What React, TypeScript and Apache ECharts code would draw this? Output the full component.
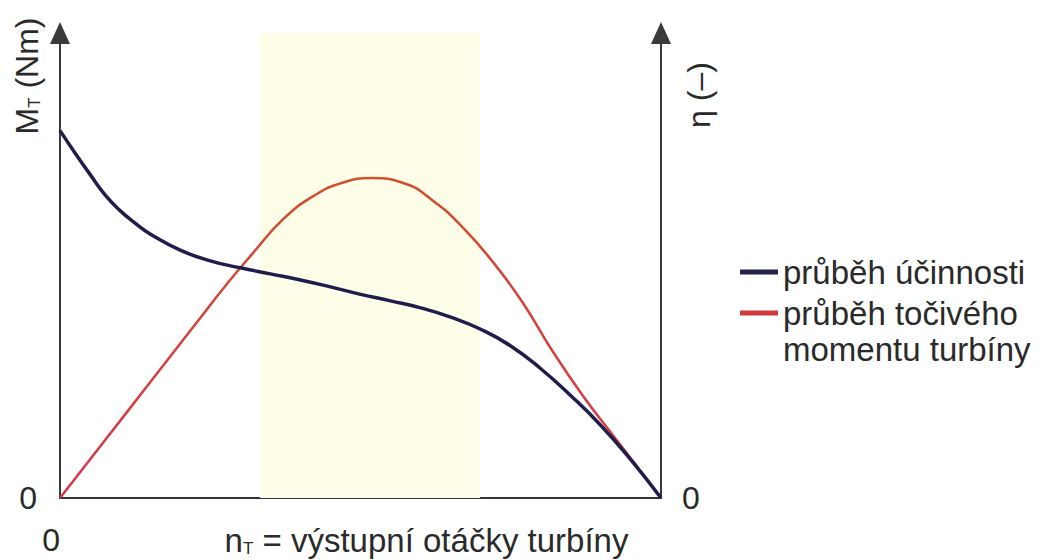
import React, { useEffect, useRef } from "react";
import * as echarts from "echarts";

// Turbine speed (relative, 0..100) and curve values (relative units, 0..100)
const efficiencyX = [0, 2.5, 5, 7.5, 10, 12.5, 15, 20, 25, 30, 35, 40, 45, 50, 55, 60, 65, 70, 75, 80, 85, 90, 95, 100];
const efficiencyY = [79, 74.2, 69.6, 65.2, 61.8, 59.1, 56.8, 53.3, 51.0, 49.5, 48.2, 46.9, 45.4, 43.8, 42.4, 40.9, 38.9, 36.3, 32.7, 27.8, 22.0, 15.6, 8.2, 0];

const torqueX = [0, 7, 15, 22, 28, 32, 37, 42, 47, 52, 57, 62, 67, 72, 77, 82, 87, 92, 96, 100];
const torqueY = [0, 11.6, 24.9, 36.5, 46.4, 52.5, 59.8, 64.8, 67.8, 68.8, 67.8, 64.0, 58.2, 50.8, 42.0, 31.5, 22.0, 13.5, 6.8, 0];

// Highlighted operating range on the speed axis
const bandRange = [33.3, 69.9];

const seriesNames = ["průběh účinnosti", "průběh točivého\nmomentu turbíny"];
const xAxisTitle = "výstupní otáčky turbíny";
const leftAxisTitle = "(Nm)";
const rightAxisTitle = "η (–)";

const FONT = "Liberation Sans";
const TEXT = "#2a2a2a";

export default function App() {
  const ref = useRef<HTMLDivElement>(null);

  useEffect(() => {
    if (!ref.current) return;
    const chart = echarts.init(ref.current, undefined, { renderer: "svg" });

    const zeroOnly = (v: number) => (v === 0 ? "0" : "");
    const redGrad = new echarts.graphic.LinearGradient(0, 0, 1, 0, [
      { offset: 0, color: "#d8344a" },
      { offset: 0.5, color: "#cf5326" },
      { offset: 1, color: "#d8344a" },
    ]);

    const yAxisCommon = {
      type: "value",
      min: 0,
      max: 100,
      interval: 100,
      splitLine: { show: false },
      axisTick: { show: false },
      axisLine: {
        show: true,
        symbol: ["none", "triangle"],
        symbolSize: [20, 22],
        lineStyle: { color: "#3a3a3a", width: 2 },
      },
      axisLabel: {
        formatter: zeroOnly,
        fontFamily: FONT,
        fontSize: 32,
        color: TEXT,
      },
    };

    chart.setOption({
      animation: false,
      backgroundColor: "#ffffff",
      grid: { left: 60, right: 381, top: 33, bottom: 62, containLabel: false, outerBoundsMode: "none" },
      legend: {
        orient: "vertical",
        left: 740,
        top: 254,
        padding: 0,
        itemWidth: 38,
        itemHeight: 5,
        itemGap: -31,
        icon: "rect",
        selectedMode: false,
        formatter: (name: string) => (name === seriesNames[1] ? " \n" + name : name),
        textStyle: { fontFamily: FONT, fontSize: 33, color: TEXT, lineHeight: 36 },
        data: [
          { name: seriesNames[0], itemStyle: { color: "#23224f" } },
          { name: seriesNames[1], itemStyle: { color: "#cf3a38" } },
        ],
      },
      xAxis: {
        type: "value",
        min: 0,
        max: 100,
        interval: 100,
        splitLine: { show: false },
        axisTick: { show: false },
        axisLine: { show: true, lineStyle: { color: "#333333", width: 2 } },
        axisLabel: {
          formatter: zeroOnly,
          align: "right",
          margin: 26,
          fontFamily: FONT,
          fontSize: 32,
          color: TEXT,
        },
        name: "n{sub|T} = " + xAxisTitle,
        nameLocation: "middle",
        nameGap: 26,
        nameMoveOverlap: false,
        nameTextStyle: {
          fontFamily: FONT,
          fontSize: 33,
          color: TEXT,
          padding: [0, 0, 0, 132],
          rich: {
            sub: { fontFamily: FONT, fontSize: 17, color: TEXT, verticalAlign: "bottom", padding: [14, 0, 0, 0] },
          },
        },
      },
      yAxis: [
        { ...yAxisCommon, position: "left", axisLabel: { ...yAxisCommon.axisLabel, margin: 23 } },
        { ...yAxisCommon, position: "right", axisLabel: { ...yAxisCommon.axisLabel, margin: 21 } },
      ],
      graphic: [
        {
          type: "text",
          x: 27,
          y: 76,
          rotation: Math.PI / 2,
          style: {
            text: "M{sub|T} " + leftAxisTitle,
            font: `32px "${FONT}"`,
            fill: TEXT,
            align: "center",
            verticalAlign: "middle",
            rich: {
              sub: { fontSize: 17, fontFamily: FONT, fill: TEXT, padding: [14, 0, 0, 0] },
            },
          },
        },
        {
          type: "text",
          x: 699,
          y: 95,
          rotation: Math.PI / 2,
          style: {
            text: rightAxisTitle,
            font: `32px "${FONT}"`,
            fill: TEXT,
            align: "center",
            verticalAlign: "middle",
          },
        },
      ],
      series: [
        {
          name: seriesNames[0],
          type: "line",
          smooth: 0.5,
          showSymbol: false,
          z: 3,
          lineStyle: { color: "#1f1d4c", width: 3.5 },
          itemStyle: { color: "#23224f" },
          data: efficiencyX.map((x, i) => [x, efficiencyY[i]]),
          markArea: {
            silent: true,
            itemStyle: { color: "#fefee8" },
            data: [[{ xAxis: bandRange[0] }, { xAxis: bandRange[1] }]],
          },
        },
        {
          name: seriesNames[1],
          type: "line",
          smooth: 0.5,
          showSymbol: false,
          z: 2,
          lineStyle: { color: redGrad, width: 2.5 },
          itemStyle: { color: "#cf3a38" },
          data: torqueX.map((x, i) => [x, torqueY[i]]),
        },
      ],
    });

    return () => chart.dispose();
  }, []);

  return <div ref={ref} style={{ width: 1042, height: 560, position: "absolute", left: 0, top: 0 }} />;
}
